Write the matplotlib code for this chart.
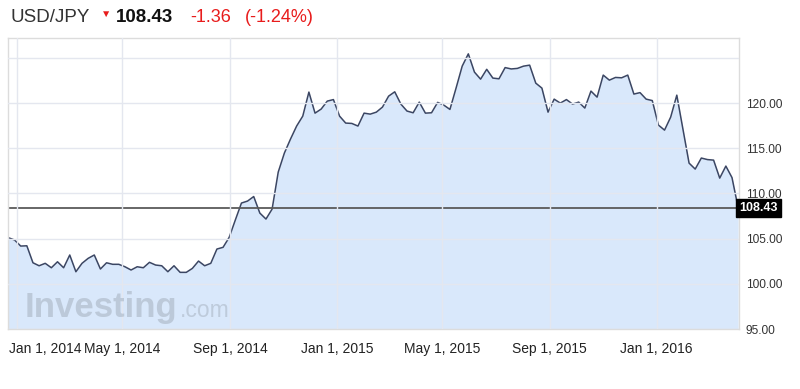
import matplotlib
matplotlib.use("Agg")
import matplotlib.pyplot as plt
import matplotlib.transforms as mtransforms
import pandas as pd

plt.rcParams['font.family'] = ['Liberation Sans', 'DejaVu Sans']

# weekly closes, USD/JPY, starting Sun Dec 22 2013
start_date = "2013-12-22"
closes = [
    105.10, 104.85, 104.18, 104.21, 102.33, 102.00, 102.27, 101.78, 102.44, 101.78,
    103.19, 101.34, 102.27, 102.82, 103.19, 101.64, 102.33, 102.16, 102.16, 101.89,
    101.53, 101.89, 101.78, 102.38, 102.08, 102.00, 101.34, 102.00, 101.27, 101.27,
    101.71, 102.52, 102.00, 102.27, 103.85, 104.04, 105.14, 107.06, 108.94, 109.16,
    109.66, 107.83, 107.17, 108.27, 112.37, 114.47, 116.02, 117.46, 118.56, 121.22,
    118.89, 119.34, 120.22, 120.39, 118.56, 117.79, 117.75, 117.46, 118.89, 118.78,
    119.00, 119.56, 120.77, 121.25, 119.89, 119.12, 118.93, 120.11, 118.89, 118.93,
    120.08, 119.78, 119.30, 121.66, 124.09, 125.45, 123.43, 122.65, 123.74, 122.77,
    122.69, 123.93, 123.78, 123.84, 124.09, 124.20, 122.21, 121.66, 119.00, 120.44,
    120.00, 120.39, 119.89, 120.11, 119.45, 121.33, 120.66, 123.10, 122.54, 122.84,
    122.80, 123.10, 121.00, 121.16, 120.44, 120.28, 117.57, 117.01, 118.45, 120.88,
    117.12, 113.36, 112.70, 113.92, 113.75, 113.69, 111.70, 113.03, 111.76, 108.43,
]
last_price = 108.43
change = "-1.36"
change_pct = "(-1.24%)"

tick_dates = ["2014-01-01", "2014-05-01", "2014-09-01", "2015-01-01",
              "2015-05-01", "2015-09-01", "2016-01-01"]
tick_labels = ["Jan 1, 2014", "May 1, 2014", "Sep 1, 2014", "Jan 1, 2015",
               "May 1, 2015", "Sep 1, 2015", "Jan 1, 2016"]
y_ticks = [95, 100, 105, 110, 115, 120, 125]

dates = pd.date_range(start_date, periods=len(closes), freq="7D")

fig = plt.figure(figsize=(8, 3.89), dpi=100)
ax = fig.add_axes([0.01, 0.1542, 0.91375, 0.748])

ax.fill_between(dates, closes, 95, color="#d9e8fb", lw=0)
ax.plot(dates, closes, color="#3b4663", lw=1.1)
ax.axhline(last_price, color="#5a5a5a", lw=1.3)

ax.set_xlim(pd.Timestamp("2013-12-21 12:00"), pd.Timestamp("2016-04-04"))
ax.set_ylim(95, 127.2)

ax.set_xticks(pd.to_datetime(tick_dates))
ax.set_xticklabels(tick_labels, fontsize=10, color="#222222")
ax.set_yticks(y_ticks)
ax.set_yticklabels(["%.2f" % v if v < 125 else "" for v in y_ticks],
                   fontsize=8.6, color="#333333")
ax.yaxis.tick_right()
ax.tick_params(axis="x", length=0, pad=9)
ax.tick_params(axis="y", length=0, pad=5)

# first date label sits right of its gridline so it isn't cut off
first = ax.get_xticklabels()[0]
first.set_ha("left")
first.set_transform(first.get_transform() +
                    mtransforms.ScaledTranslation(-0.08, 0, fig.dpi_scale_trans))

ax.grid(True, color="#e4e7ef", lw=1)
ax.set_axisbelow(False)
for sp in ax.spines.values():
    sp.set_color("#dcdcdc")
    sp.set_linewidth(1)

# current price box on the right axis
trans = mtransforms.blended_transform_factory(ax.transAxes, ax.transData)
ax.text(1.0, last_price, "%.2f" % last_price, transform=trans, ha="left",
        va="center", fontsize=9, fontweight="bold", color="white",
        bbox=dict(boxstyle="square,pad=0.25", fc="black", ec="black"))

# watermark
ax.text(0.023, 0.04, "Investing", transform=ax.transAxes, fontsize=25,
        fontweight="bold", color="#b3bfce", alpha=0.75, va="baseline")
ax.text(0.235, 0.04, ".com", transform=ax.transAxes, fontsize=16.5,
        color="#b3bfce", alpha=0.7, va="baseline")

# header
fig.text(0.0125, 0.9434, "USD/JPY", fontsize=13.5, color="#333333", va="baseline")
fig.text(0.1325, 0.964, "\u25bc", fontsize=7.5, color="#e81c1c", ha="center", va="center")
fig.text(0.145, 0.9434, "%.2f" % last_price, fontsize=13.5, fontweight="bold",
         color="#111111", va="baseline")
fig.text(0.2384, 0.9434, change, fontsize=13, color="#e81c1c", va="baseline")
fig.text(0.30625, 0.9434, change_pct, fontsize=13, color="#e81c1c", va="baseline")

fig.savefig("out.png", dpi=100)
